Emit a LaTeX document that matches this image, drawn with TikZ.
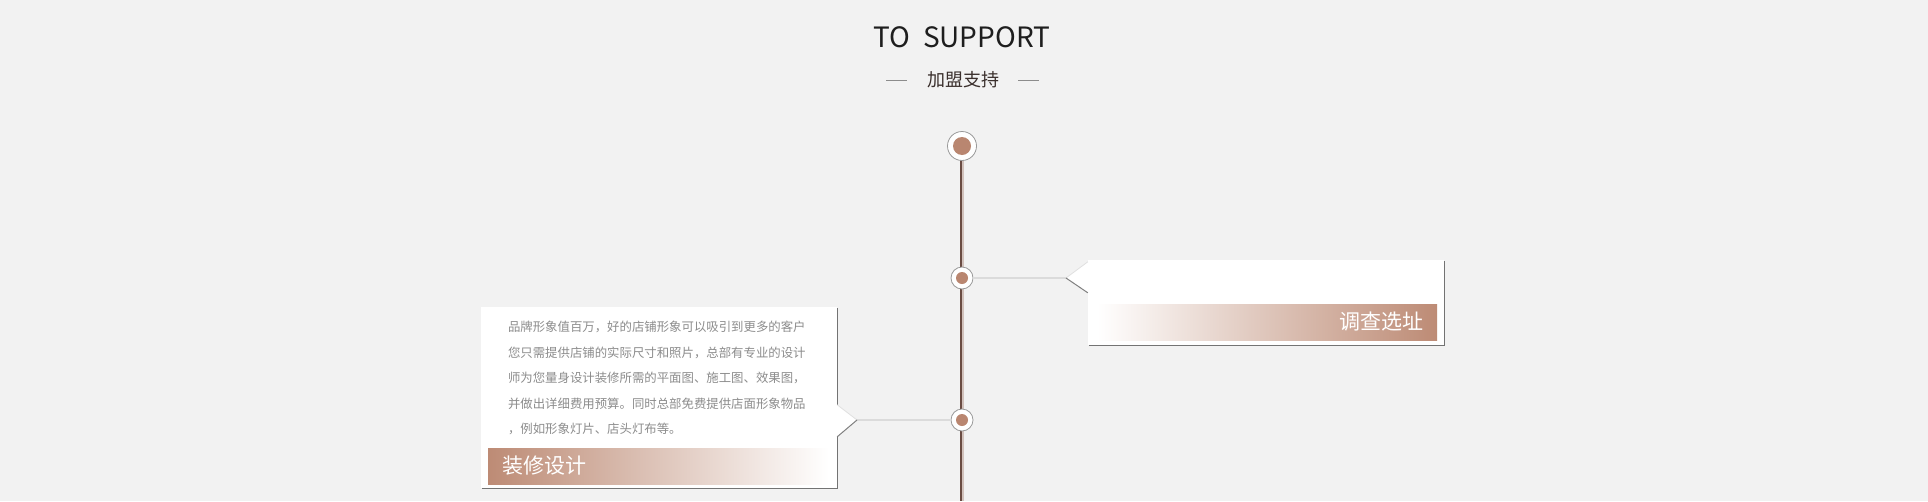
\documentclass[tikz,border=0pt]{standalone}
\usepackage{fontspec}
\setmainfont{Noto Sans CJK SC}
\usetikzlibrary{positioning,calc,shadows}
\pgfdeclarelayer{background}
\pgfsetlayers{background,main}
\definecolor{pageGray}{HTML}{F2F2F2}
\definecolor{dotBrown}{HTML}{B98670}
\definecolor{barBrown}{HTML}{BD8B75}
\definecolor{railBrown}{HTML}{6A4C43}
\definecolor{railLight}{HTML}{D2C2BC}
\definecolor{textGray}{HTML}{8C8C8C}
\definecolor{headInk}{HTML}{1E1E1E}
\definecolor{subInk}{HTML}{3A2F2C}
\tikzset{
	bigdot/.style={circle,draw=black!40,fill=white,line width=0.8pt,minimum size=29pt,inner sep=0pt,
		path picture={\fill[dotBrown] (path picture bounding box.center) circle (9pt);}},
	smalldot/.style={circle,draw=black!40,fill=white,line width=0.8pt,minimum size=22pt,inner sep=0pt,
		path picture={\fill[dotBrown] (path picture bounding box.center) circle (6pt);}},
	rail/.style={railBrown,line width=2pt},
	railshade/.style={railLight,line width=1.8pt},
	link/.style={black!14,line width=1.6pt},
	card/.style={fill=white,inner sep=0pt,
		general shadow={shadow xshift=0.6pt,shadow yshift=-1.4pt,fill=black!55}},
	bar/.style={inner sep=0pt,minimum height=36pt},
	barlabel/.style={text=white,font=\fontsize{21}{21}\selectfont,inner sep=0pt},
	body/.style={align=left,inner sep=0pt,text=textGray,font=\fontsize{12.4}{25.5}\selectfont},
	tabedge/.style={black!12,line width=0.8pt},
	tabshadow/.style={black!50,line width=1pt},
	sideline/.style={black!45,line width=0.8pt}
}
\newcommand{\drawTab}[3]{
	\fill[white] (#1) -- (#2) -- (#3) -- cycle;
	\draw[tabedge] (#1) -- (#2);
	\draw[tabshadow] (#2) -- (#3);
}

\begin{document}
\begin{tikzpicture}[x=1pt,y=-1pt]

	\begin{pgfonlayer}{background}
		\fill[pageGray] (0,0) rectangle (1928,501);
	\end{pgfonlayer}

	% heading
	\node[inner sep=0pt,text=headInk,font=\fontsize{28}{28}\selectfont] (head) at (962,37) {TO\ \ SUPPORT};
	\node[inner sep=0pt,text=subInk,font=\fontsize{18}{18}\selectfont] (sub) at (963,80) {加盟支持};
	\draw[sideline] ([xshift=-20pt]sub.west) -- ++(-21,0);
	\draw[sideline] ([xshift=19pt]sub.east) -- ++(21,0);

	% timeline
	\foreach \name/\y/\kind in {dot0/146/bigdot,dot1/278/smalldot,dot2/420/smalldot}{
		\node[\kind] (\name) at (962,\y) {};
	}
	\coordinate (railEnd) at (962,501);
	\begin{pgfonlayer}{background}
		\draw[rail] ([xshift=-0.8pt]dot0.center) -- ([xshift=-0.8pt]railEnd);
		\draw[railshade] ([xshift=1.1pt]dot0.center) -- ([xshift=1.1pt]railEnd);
	\end{pgfonlayer}

	% right card
	\node[card,minimum width=356pt,minimum height=85pt] (card1) at (1266,302.5) {};
	\coordinate (tip1) at (1066,278);
	\draw[link] (dot1) -- (tip1);
	\drawTab{$(card1.north west)+(0,2)$}{tip1}{$(card1.north west)+(0,33)$}
	\node[bar,minimum width=340pt,left color=white,right color=barBrown,
		above left=5pt and 7pt of card1.south east] (bar1) {};
	\node[barlabel,left=14pt of bar1.east] (label1) {调查选址};

	% left card
	\node[card,minimum width=356pt,minimum height=181pt] (card2) at (659,397.5) {};
	\coordinate (tip2) at (857,420);
	\draw[link] (dot2) -- (tip2);
	\drawTab{$(card2.north east)+(0,98)$}{tip2}{$(card2.north east)+(0,130)$}
	\node[bar,minimum width=341pt,left color=barBrown,right color=white,
		above right=4pt and 7pt of card2.south west] (bar2) {};
	\node[barlabel,right=14pt of bar2.west] (label2) {装修设计};
	\node[body,below right=14pt and 27pt of card2.north west] (desc) {%
		品牌形象值百万，好的店铺形象可以吸引到更多的客户\\
		您只需提供店铺的实际尺寸和照片，总部有专业的设计\\
		师为您量身设计装修所需的平面图、施工图、效果图，\\
		并做出详细费用预算。同时总部免费提供店面形象物品\\
		，例如形象灯片、店头灯布等。};

	\pgfresetboundingbox
	\useasboundingbox (0,0) rectangle (1928,501);

\end{tikzpicture}
\end{document}
